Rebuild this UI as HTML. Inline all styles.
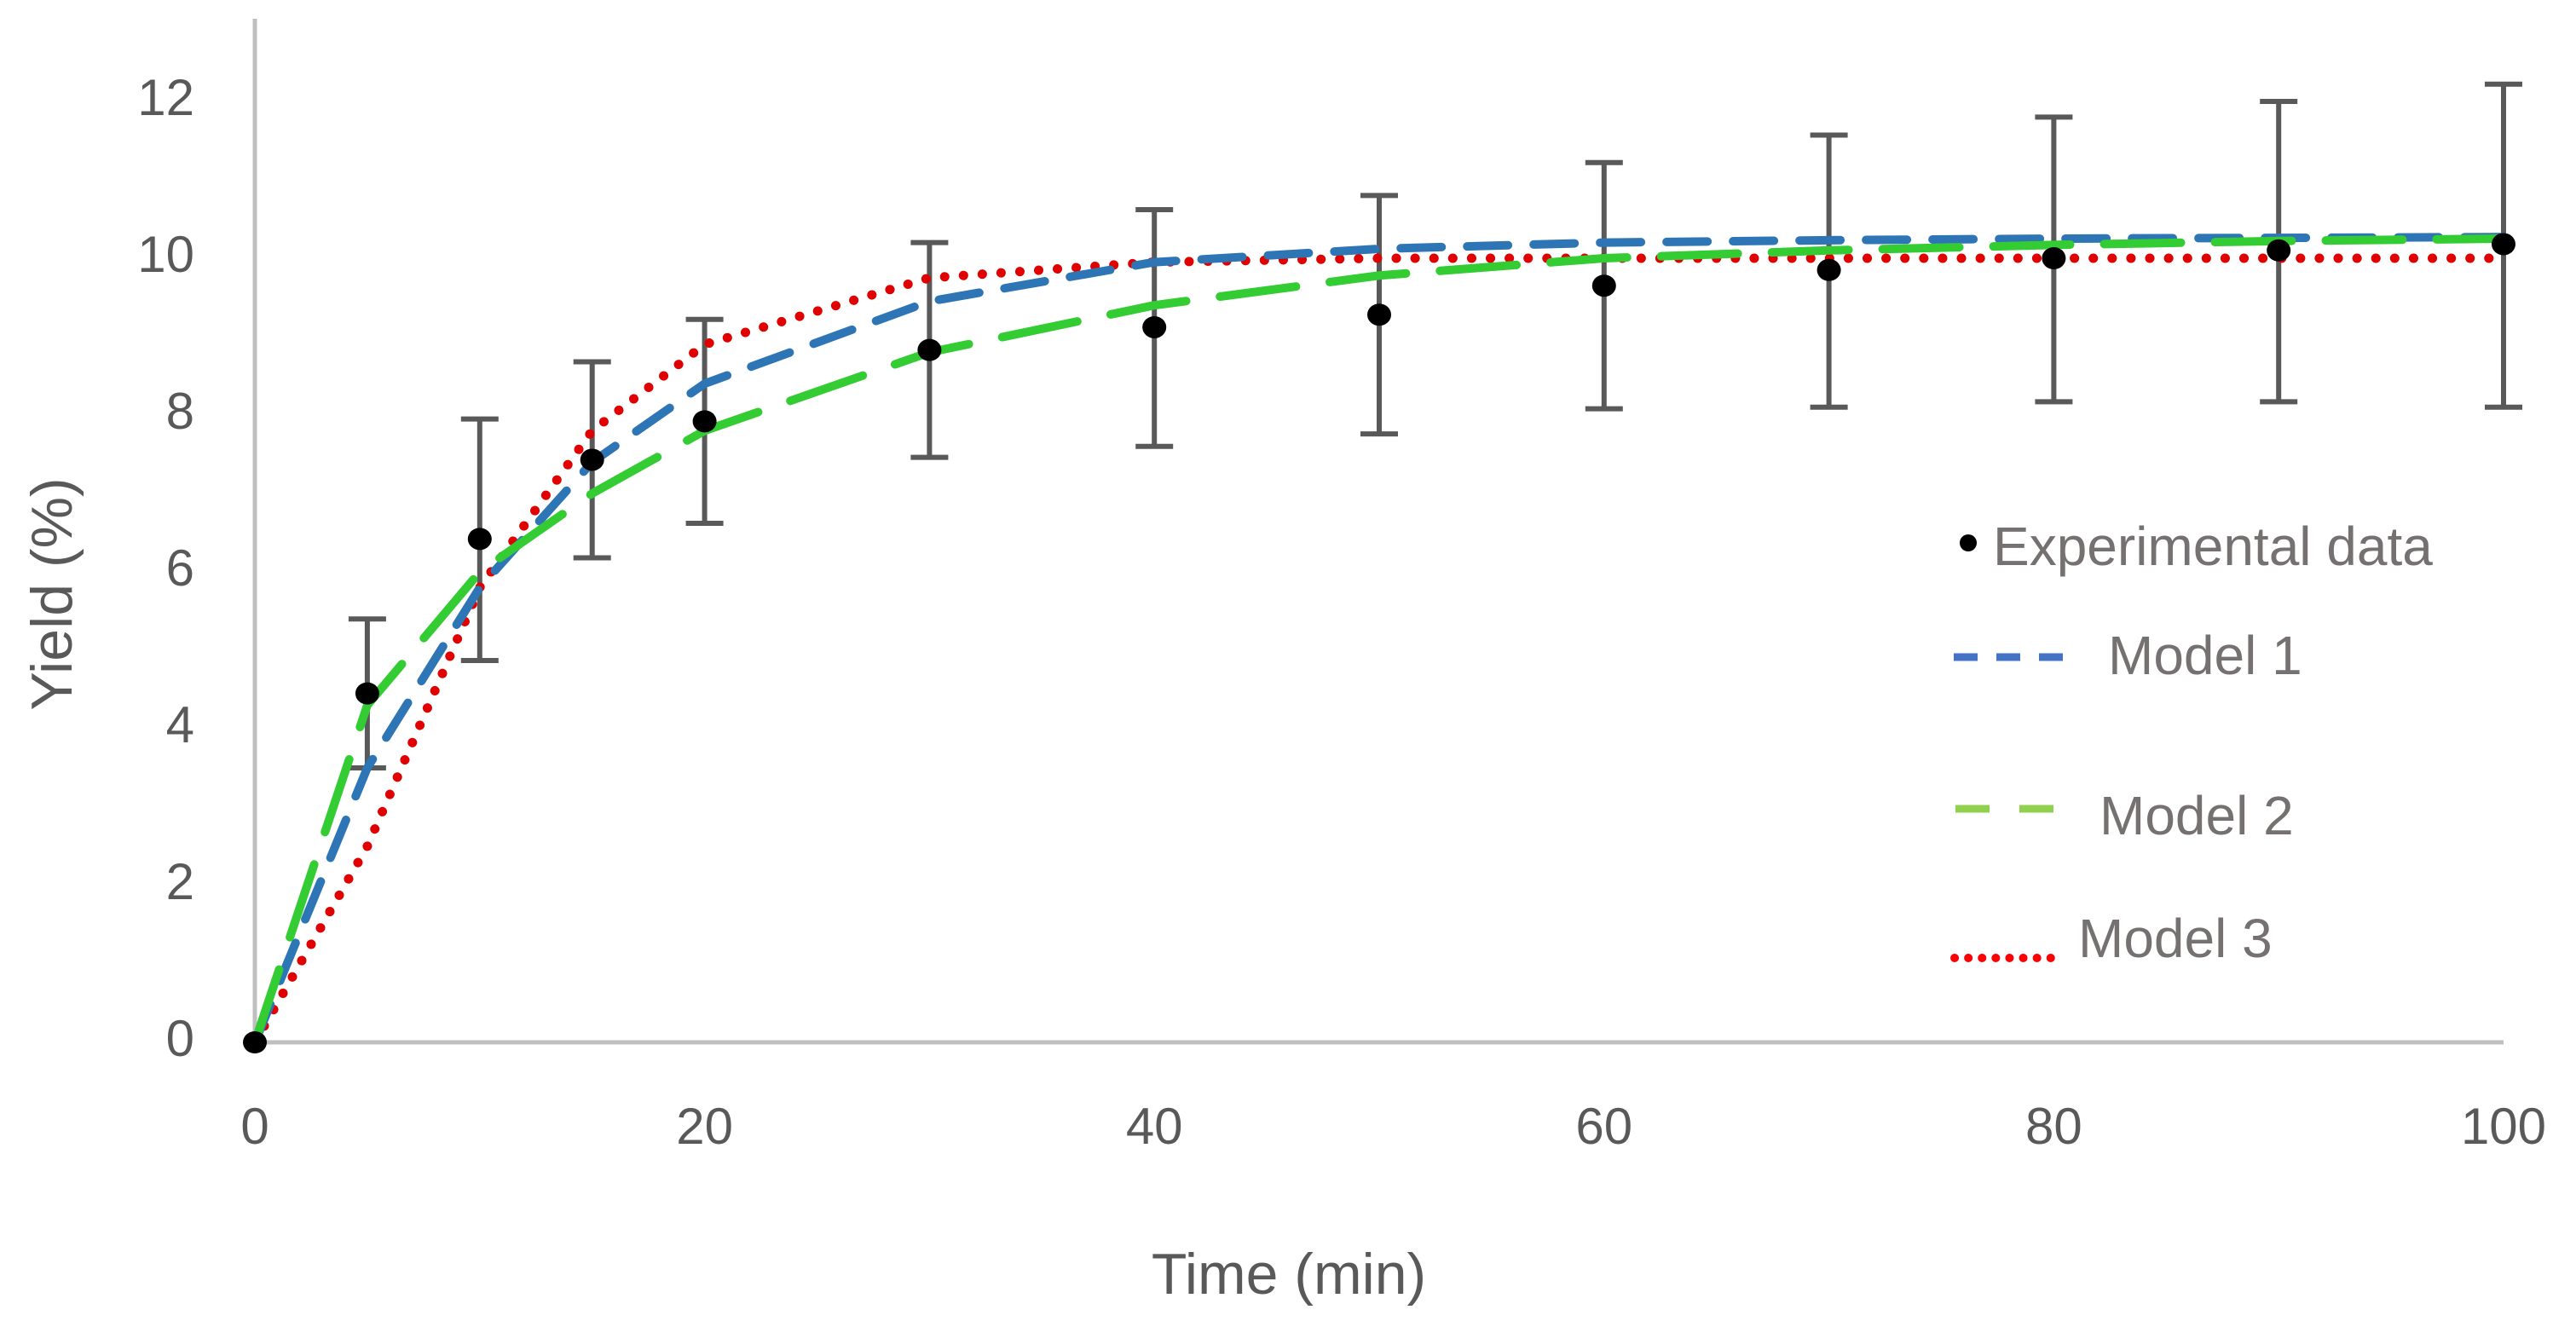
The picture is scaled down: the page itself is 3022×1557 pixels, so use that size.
<!DOCTYPE html>
<html><head><meta charset="utf-8"><style>
html,body{margin:0;padding:0;background:#fff;}
svg{display:block;font-family:"Liberation Sans",sans-serif;}
</style></head><body>
<svg id="chart" width="3022" height="1557" viewBox="0 0 3022 1557" xmlns="http://www.w3.org/2000/svg">
<rect width="3022" height="1557" fill="#fff"/>
<g id="axes"></g>
<g id="series"></g>
<g id="legend">
  <circle cx="2309" cy="637" r="10" fill="#000"/>
  <text x="2338" y="646" font-size="64" fill="#767171" dominant-baseline="middle">Experimental data</text>
  <line x1="2292" y1="771" x2="2420" y2="771" stroke="#4472c4" stroke-width="9" stroke-dasharray="28,22"/>
  <text x="2473" y="774" font-size="64" fill="#767171" dominant-baseline="middle">Model 1</text>
  <line x1="2294" y1="949" x2="2410" y2="949" stroke="#92d050" stroke-width="9" stroke-dasharray="40,35"/>
  <text x="2463" y="962" font-size="64" fill="#767171" dominant-baseline="middle">Model 2</text>
  <line x1="2293" y1="1124" x2="2410" y2="1124" stroke="#ff0000" stroke-width="10" stroke-dasharray="0.1,16" stroke-linecap="round"/>
  <text x="2438" y="1106" font-size="64" fill="#767171" dominant-baseline="middle">Model 3</text>
</g>
</svg>
<script>
const times = [0,5,10,15,20,30,40,50,60,70,80,90,100];
const expData = [0,4.45,6.42,7.43,7.92,8.83,9.12,9.28,9.65,9.85,10.0,10.1,10.18];
const errLow = [0,3.5,4.87,6.18,6.62,7.46,7.6,7.76,8.08,8.1,8.17,8.17,8.1];
const errHigh = [0,5.4,7.95,8.68,9.22,10.2,10.62,10.8,11.22,11.57,11.8,12.0,12.22];
const model1 = [0,3.5,5.8,7.4,8.4,9.45,9.95,10.12,10.2,10.23,10.25,10.26,10.27];
const model2 = [0,4.3,6.0,7.0,7.8,8.8,9.4,9.78,10.0,10.1,10.17,10.22,10.25];
const model3 = [0,2.5,5.8,7.8,8.9,9.75,9.95,10.0,10.0,10.0,10.0,10.0,10.0];
const xTicks = [0,20,40,60,80,100];
const yTicks = [0,2,4,6,8,10,12];

const NS = "http://www.w3.org/2000/svg";
const X0=299, X1=2937, Y0=1223, Y12=119;
const xs = v => X0 + (X1-X0)*v/100;
const ys = v => Y0 - (Y0-Y12)*v/12;
function mk(tag, attrs, parent){const e=document.createElementNS(NS,tag);for(const k in attrs)e.setAttribute(k,attrs[k]);parent.appendChild(e);return e;}
const axes=document.getElementById('axes'), series=document.getElementById('series');

let yl=mk('line',{x1:X0,y1:22,x2:X0,y2:Y0,stroke:'#bfbfbf','stroke-width':5},axes);


let xl=mk('line',{x1:X0,y1:Y0,x2:X1,y2:Y0,stroke:'#bfbfbf','stroke-width':5},axes);



yTicks.forEach(v=>{
  const t=mk('text',{x:228,y:ys(v),'font-size':60,fill:'#595959','text-anchor':'end','dominant-baseline':'middle'},axes);
  t.textContent=v;
  
  
});
xTicks.forEach(v=>{
  const t=mk('text',{x:xs(v),y:1326,'font-size':60,fill:'#595959','text-anchor':'middle','dominant-baseline':'middle'},axes);
  t.textContent=v;
  
  
});
let yt=mk('text',{x:0,y:0,'font-size':68,fill:'#595959','text-anchor':'middle','dominant-baseline':'middle',transform:'translate(66,697) rotate(-90)'},axes);
yt.textContent='Yield (%)';


let xt=mk('text',{x:1512,y:1500,'font-size':68,fill:'#595959','text-anchor':'middle','dominant-baseline':'middle'},axes);
xt.textContent='Time (min)';



function line(vals,color,dash,cap,name,w){
  const d=vals.map((v,i)=>(i?'L':'M')+xs(times[i])+','+ys(v)).join(' ');
  const p=mk('path',{d:d,fill:'none',stroke:color,'stroke-width':w,'stroke-dasharray':dash,'stroke-linecap':cap,'stroke-linejoin':'round'},series);
  
  
}
times.forEach((t,i)=>{
  if(errHigh[i]===errLow[i])return;
  const g=mk('g',{},series);
  
  
  const x=xs(t);
  mk('line',{x1:x,y1:ys(errLow[i]),x2:x,y2:ys(errHigh[i]),stroke:'#595959','stroke-width':6},g);
  mk('line',{x1:x-22,y1:ys(errLow[i]),x2:x+22,y2:ys(errLow[i]),stroke:'#595959','stroke-width':6},g);
  mk('line',{x1:x-22,y1:ys(errHigh[i]),x2:x+22,y2:ys(errHigh[i]),stroke:'#595959','stroke-width':6},g);
});
line(model3,'#e00000','0.1,22','round','model3-line',11);
line(model1,'#2e75b6','48,30','round','model1-line',10);
line(model2,'#33cc33','90,40','round','model2-line',10);
times.forEach((t,i)=>{
  const c=mk('ellipse',{cx:xs(t),cy:ys(expData[i]),rx:14,ry:13,fill:'#000'},series);
  
  
});
</script>
</body></html>
